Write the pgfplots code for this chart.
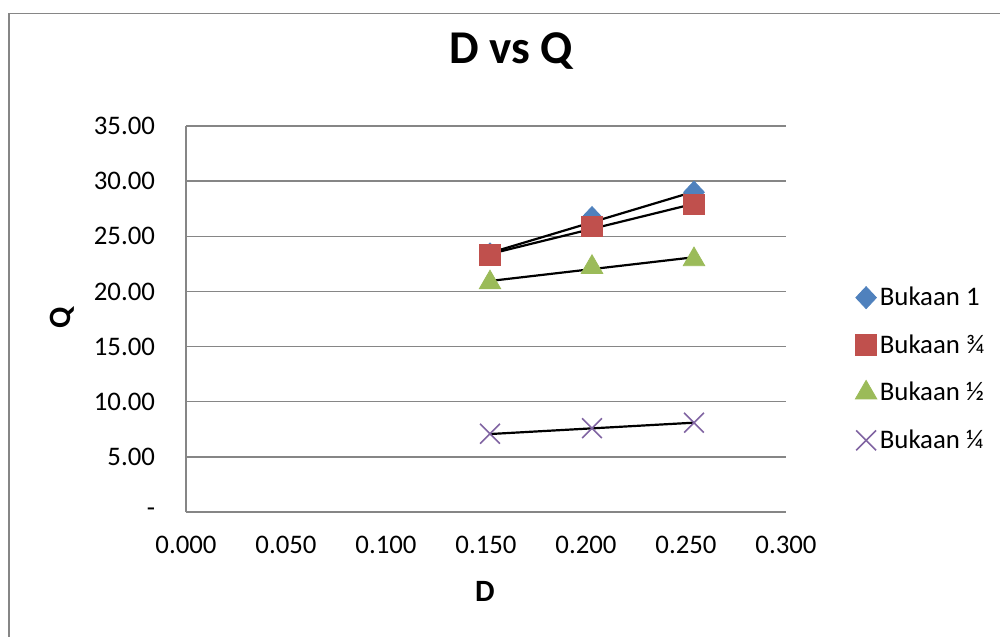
\documentclass[border=0pt]{standalone}
\usepackage{fontspec}
\setmainfont{Carlito}
\usepackage{pgfplots}
\pgfplotsset{compat=1.18}
\definecolor{sBlue}{HTML}{4F81BD}
\definecolor{sRed}{HTML}{C0504D}
\definecolor{sGreen}{HTML}{9BBB59}
\definecolor{sPurple}{HTML}{8064A2}
\definecolor{gridgray}{HTML}{868686}
\begin{document}
\begin{tikzpicture}
\useasboundingbox (0,0) rectangle (500bp,-318.5bp);
\draw[gridgray, line width=0.9bp] (4.5bp,-330bp) -- (4.5bp,-6.75bp) -- (510bp,-6.75bp);
\begin{axis}[
  at={(93bp,-256bp)}, anchor=south west,
  scale only axis, width=300bp, height=193bp,
  xmin=0, xmax=0.3, ymin=0, ymax=35,
  axis lines*=left,
  axis line style={gridgray, line width=0.75bp, -},
  major tick length=0pt,
  xtick={0,0.05,0.1,0.15,0.2,0.25,0.3},
  xticklabels={0.000,0.050,0.100,0.150,0.200,0.250,0.300},
  ytick={0,5,10,15,20,25,30,35},
  yticklabels={-,5.00,10.00,15.00,20.00,25.00,30.00,35.00},
  ymajorgrids,
  grid style={gridgray, line width=0.75bp},
  ticklabel style={font=\fontsize{13.4bp}{15bp}\selectfont},
  yticklabel style={anchor=east, xshift=-12bp},
  xticklabel style={anchor=north, yshift=-8.5bp},
  title={D vs Q},
  title style={font=\fontsize{23.5bp}{26bp}\selectfont\bfseries, at={(axis description cs:0.5417,1.163)}, anchor=center},
  xlabel={D},
  xlabel style={font=\fontsize{15.5bp}{17bp}\selectfont\bfseries, at={(axis description cs:0.498,-0.207)}, anchor=center},
  ylabel={Q},
  ylabel style={font=\fontsize{15.5bp}{17bp}\selectfont\bfseries, at={(axis description cs:-0.207,0.503)}, anchor=center},
  legend style={at={(1.105,0.605)}, anchor=north west, draw=none, fill=none,
    font=\fontsize{13.4bp}{15bp}\selectfont, row sep=9bp,
    nodes={inner xsep=1.5bp}},
  legend cell align=left,
  legend image code/.code={\draw[#1] plot coordinates {(0.15cm,0cm)};},
]
\addplot[only marks, mark=diamond*, mark size=5.5bp, color=sBlue, mark options={xscale=1.25}]
  coordinates {(0.152,23.4) (0.203,26.7) (0.254,29.0)};
\addlegendentry{Bukaan 1}
\addplot[only marks, mark=square*, mark size=5.2bp, color=sRed]
  coordinates {(0.152,23.3) (0.203,25.9) (0.254,27.9)};
\addlegendentry{Bukaan ¾}
\addplot[only marks, mark=triangle*, mark size=6.2bp, color=sGreen]
  coordinates {(0.152,20.8) (0.203,22.2) (0.254,22.9)};
\addlegendentry{Bukaan ½}
\addplot[only marks, mark=x, mark size=7bp, color=sPurple, mark options={line width=0.8bp}]
  coordinates {(0.152,7.1) (0.203,7.6) (0.254,8.1)};
\addlegendentry{Bukaan ¼}
\addplot[black, line width=1.1bp, forget plot] coordinates {(0.152,23.5) (0.254,29.05)};
\addplot[black, line width=1.1bp, forget plot] coordinates {(0.152,23.4) (0.254,27.95)};
\addplot[black, line width=1.1bp, forget plot] coordinates {(0.152,20.95) (0.254,23.1)};
\addplot[black, line width=1.1bp, forget plot] coordinates {(0.152,7.07) (0.254,8.1)};
\end{axis}
\end{tikzpicture}
\end{document}
